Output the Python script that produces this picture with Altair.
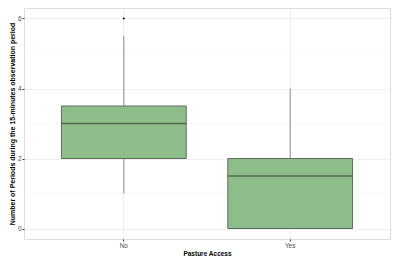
import altair as alt
import pandas as pd

categories = ["No", "Yes"]
lower = [1.0, 0.0]
q1 = [2.0, 0.0]
median = [3.0, 1.5]
q3 = [3.5, 2.0]
upper = [5.5, 4.0]
outlier_cat = ["No"]
outlier_val = [6.0]
minor_ticks = [1, 3, 5]
major_ticks = [0, 2, 4, 6]

df = pd.DataFrame({"cat": categories, "lower": lower, "q1": q1, "median": median,
                   "q3": q3, "upper": upper})
out_df = pd.DataFrame({"cat": outlier_cat, "val": outlier_val})
minor_df = pd.DataFrame({"v": minor_ticks})

W, H = 384, 249
plot_w = 366
step = plot_w / 2.2
box_w = 0.75 * step

xscale = alt.Scale(domain=categories, paddingInner=0.25, paddingOuter=0.225)
yscale = alt.Scale(domain=[-0.3, 6.3], nice=False, zero=False)

common = dict(ticks=True, tickColor="#333333", tickSize=2, domain=False,
              labelColor="#4d4d4d", labelFontSize=6.5, labelPadding=1,
              titleFontWeight="bold", titleColor="#000000",
              labelFont="Liberation Sans", titleFont="Liberation Sans",
              grid=True, gridColor="#ebebeb", gridWidth=0.8)

xaxis = alt.Axis(title="Pasture Access", bandPosition=0.5, labelAngle=0,
                 titleFontSize=6.5, titlePadding=2, **common)
yaxis = alt.Axis(title="Number of Periods during the 15-minutes observation period",
                 values=major_ticks, titleFontSize=7, titlePadding=2, **common)

minor = alt.Chart(minor_df).mark_rule(color="#f4f4f4", strokeWidth=0.6).encode(
    y=alt.Y("v:Q", scale=yscale, axis=yaxis)
)

whisker = alt.Chart(df).mark_rule(color="#8a8a8a", strokeWidth=1).encode(
    x=alt.X("cat:N", scale=xscale, axis=xaxis, sort=categories),
    y=alt.Y("lower:Q", scale=yscale, axis=yaxis),
    y2="upper:Q",
)

box = alt.Chart(df).mark_bar(fill="#8fbc8b", stroke="#5b6e5b", strokeWidth=1,
                             opacity=1).encode(
    x=alt.X("cat:N", scale=xscale, axis=xaxis, sort=categories),
    y=alt.Y("q1:Q", scale=yscale, axis=yaxis),
    y2="q3:Q",
)

med = alt.Chart(df).mark_tick(color="#2f4a2f", thickness=1.3, size=box_w,
                              orient="horizontal").encode(
    x=alt.X("cat:N", scale=xscale, axis=xaxis, sort=categories),
    y=alt.Y("median:Q", scale=yscale, axis=yaxis),
)

pts = alt.Chart(out_df).mark_point(filled=True, color="#000000", size=4,
                                   opacity=1).encode(
    x=alt.X("cat:N", scale=xscale, axis=xaxis, sort=categories),
    y=alt.Y("val:Q", scale=yscale, axis=yaxis),
)

chart = alt.layer(minor, whisker, box, med, pts).properties(
    width=W, height=H,
    autosize=alt.AutoSizeParams(type="fit", contains="padding"),
    padding={"left": 0, "top": 0, "right": 1, "bottom": 0},
).configure_view(stroke="#bdbdbd", strokeWidth=1).configure(background="white")

chart.save("out.html", embed_options={"renderer": "svg", "actions": False})
